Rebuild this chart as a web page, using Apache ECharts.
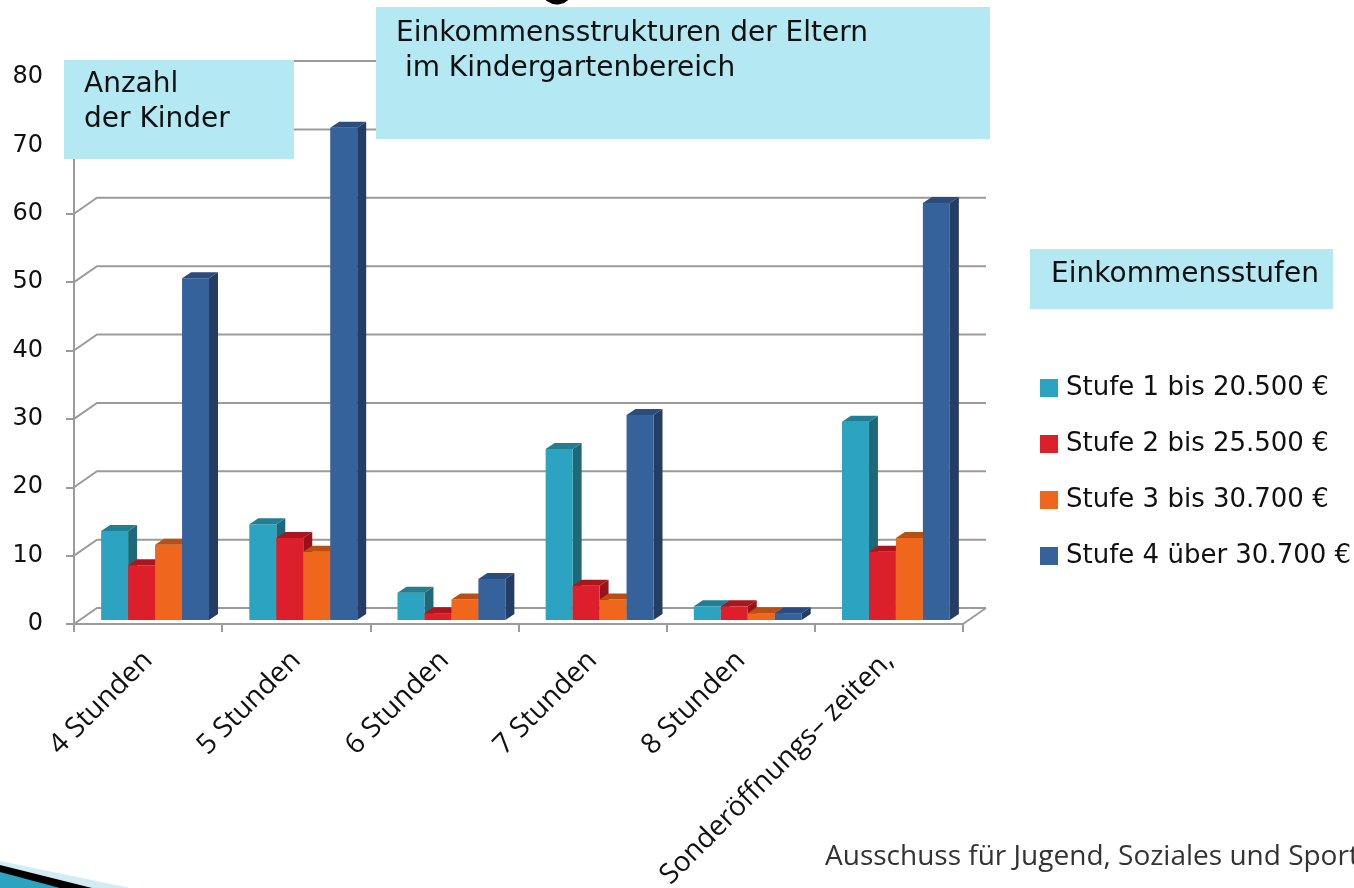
<!DOCTYPE html>
<html>
<head>
<meta charset="utf-8">
<script src="https://cdn.jsdelivr.net/npm/echarts@6/dist/echarts.min.js"></script>
<style>
  html, body { margin: 0; padding: 0; background: #fff; }
  #chart { width: 1354px; height: 888px; }
</style>
</head>
<body>
<div id="chart"></div>
<script>
var categories = ['4 Stunden', '5 Stunden', '6 Stunden', '7 Stunden', '8 Stunden', 'Sonderöffnungs– zeiten,'];
var seriesNames = ['Stufe 1 bis 20.500 €', 'Stufe 2 bis 25.500 €', 'Stufe 3 bis 30.700 €', 'Stufe 4 über 30.700 €'];
var stufe1 = [13, 14, 4, 25, 2, 29];
var stufe2 = [8, 12, 1, 5, 2, 10];
var stufe3 = [11, 10, 3, 3, 1, 12];
var stufe4 = [50, 72, 6, 30, 1, 61];
var yTicks = [0, 10, 20, 30, 40, 50, 60, 70, 80];

// front, top, side shades per series
var shades = [
  ['#2ba3c1', '#227f93', '#1e6878'],
  ['#dc1f2a', '#a9161d', '#98121a'],
  ['#ee671c', '#b94f12', '#a8470f'],
  ['#36629c', '#2a4d7d', '#253d62']
];
var values = [stufe1, stufe2, stufe3, stufe4];

var myChart = echarts.init(document.getElementById('chart'));

function barRenderer(idx) {
  var c = shades[idx];
  return function (params, api) {
    var cat = api.value(0);
    var base = api.coord([cat, 0]);
    var head = api.coord([cat, api.value(1)]);
    var bw = api.size([1, 0])[0] * 0.182;
    var x0 = base[0] + 7 - 2 * bw + idx * bw;
    var x1 = x0 + bw;
    var yb = base[1] - 4, yt = head[1] - 4;
    var dx = 9, dy = 6;
    return {
      type: 'group',
      children: [
        { type: 'polygon', shape: { points: [[x1, yt], [x1 + dx, yt - dy], [x1 + dx, yb - dy], [x1, yb]] }, style: { fill: c[2] } },
        { type: 'rect', shape: { x: x0, y: yt, width: bw, height: yb - yt }, style: { fill: c[0] } },
        { type: 'polygon', shape: { points: [[x0, yt], [x1, yt], [x1 + dx, yt - dy], [x0 + dx, yt - dy]] }, style: { fill: c[1] } }
      ]
    };
  };
}

// back wall grid lines with the diagonal connectors
function frameRenderer(params, api) {
  var v = api.value(1);
  var y = api.coord([0, v])[1];
  var cs = params.coordSys;
  var kids = [{
    type: 'polyline',
    shape: { points: [[cs.x, y], [cs.x + 23, y - 16], [cs.x + cs.width + 23, y - 16]] },
    style: { stroke: '#9b9b9b', lineWidth: 2, fill: null }
  }];
  if (v === 0) {
    kids.push({
      type: 'line',
      shape: { x1: cs.x + cs.width, y1: y, x2: cs.x + cs.width + 23, y2: y - 16 },
      style: { stroke: '#9b9b9b', lineWidth: 2 }
    });
  }
  return { type: 'group', children: kids };
}

var seriesList = [{
  type: 'custom',
  name: 'frame',
  z: 1,
  silent: true,
  renderItem: frameRenderer,
  encode: { x: 0, y: 1 },
  data: yTicks.map(function (v) { return [0, v]; })
}];
seriesNames.forEach(function (name, i) {
  seriesList.push({
    type: 'custom',
    name: name,
    z: 2,
    itemStyle: { color: shades[i][0] },
    renderItem: barRenderer(i),
    encode: { x: 0, y: 1 },
    data: values[i].map(function (v, k) { return [k, v]; })
  });
});

var boxColor = '#b4e8f3';

var option = {
  animation: false,
  grid: { left: 74, right: 391, top: 77, bottom: 264, containLabel: false, outerBoundsMode: 'none' },
  xAxis: {
    type: 'category',
    data: categories,
    axisLine: { lineStyle: { color: '#9b9b9b', width: 2 } },
    axisTick: { show: true, length: 8, lineStyle: { color: '#9b9b9b', width: 2 } },
    axisLabel: {
      interval: 0,
      rotate: 45,
      margin: 32,
      fontFamily: 'Open Sans',
      fontSize: 28,
      color: '#111'
    }
  },
  yAxis: {
    type: 'value',
    min: 0,
    max: 80,
    interval: 10,
    axisLine: { show: true, lineStyle: { color: '#9b9b9b', width: 2 } },
    axisTick: { show: true, length: 8, lineStyle: { color: '#9b9b9b', width: 2 } },
    splitLine: { show: false },
    axisLabel: {
      margin: 31,
      fontFamily: 'DejaVu Sans',
      fontSize: 24,
      color: '#111'
    }
  },
  legend: {
    data: seriesNames,
    orient: 'vertical',
    left: 1035,
    top: 370,
    icon: 'rect',
    itemWidth: 18,
    itemHeight: 18,
    itemGap: 30,
    selectedMode: false,
    textStyle: { fontFamily: 'DejaVu Sans', fontSize: 26, color: '#111', lineHeight: 26, padding: [0, 0, 0, 3] }
  },
  graphic: [
    { type: 'rect', z: 100, shape: { x: 64, y: 60, width: 230, height: 99 }, style: { fill: boxColor } },
    { type: 'text', z: 101, left: 84, top: 67, style: { text: 'Anzahl\nder Kinder', font: '28px "DejaVu Sans"', fill: '#111', lineHeight: 35 } },
    { type: 'rect', z: 100, shape: { x: 376, y: 7, width: 614, height: 132 }, style: { fill: boxColor } },
    { type: 'text', z: 101, left: 396, top: 16, style: { text: 'Einkommensstrukturen der Eltern\n im Kindergartenbereich', font: '28px "DejaVu Sans"', fill: '#111', lineHeight: 35 } },
    { type: 'rect', z: 100, shape: { x: 1030, y: 249, width: 303, height: 60 }, style: { fill: boxColor } },
    { type: 'text', z: 101, x: 1185, y: 275, style: { text: 'Einkommensstufen', font: '28px "DejaVu Sans"', fill: '#111', align: 'center', verticalAlign: 'middle' } },
    { type: 'text', z: 101, x: 825, y: 857, style: { text: 'Ausschuss für Jugend, Soziales und Sport', font: '28px "Open Sans"', fill: '#333', verticalAlign: 'middle', shadowColor: 'rgba(0,0,0,0.3)', shadowBlur: 2, shadowOffsetX: 1, shadowOffsetY: 1 } },
    { type: 'arc', z: 101, shape: { cx: 557, cy: -12, r: 14, startAngle: Math.PI * 0.2, endAngle: Math.PI * 0.8 }, style: { stroke: '#000', lineWidth: 5, fill: null } },
    { type: 'polygon', z: 101, shape: { points: [[0, 861], [130, 888], [0, 888]] }, style: { fill: '#d3ebf3' } },
    { type: 'polygon', z: 102, shape: { points: [[0, 865], [92, 888], [0, 888]] }, style: { fill: '#000' } },
    { type: 'polygon', z: 103, shape: { points: [[0, 872], [60, 888], [0, 888]] }, style: { fill: '#2ba3c1' } }
  ],
  series: seriesList
};

myChart.setOption(option);
</script>
</body>
</html>
